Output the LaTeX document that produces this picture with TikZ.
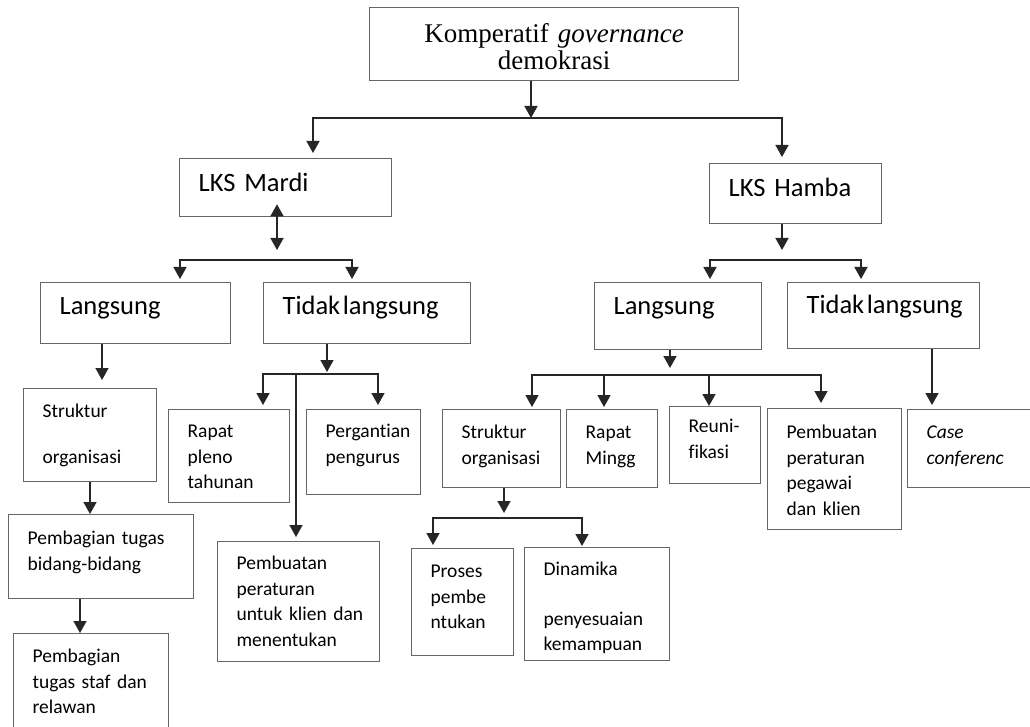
\documentclass[tikz,border=0pt]{standalone}
\usepackage{fontspec}
\setmainfont{Carlito}[Ligatures=NoCommon]
\newfontfamily\titlefont{Liberation Serif}
\usetikzlibrary{arrows.meta}

\begin{document}
\begin{tikzpicture}[
    % one unit is one pixel of the page
    x=1pt, y=-1pt,
    % general settings
    font=\fontsize{19.5}{25.5}\selectfont,
    % nodes (placed by their top left corner, text height = first baseline)
    base/.style={rectangle, draw=black!60, line width=1.3pt, inner xsep=19pt, inner ysep=0pt, align=left, anchor=north west},
    big/.style={base, font=\fontsize{26.5}{30}\selectfont},
    title/.style={base, align=center, font=\titlefont\fontsize{27}{27}\selectfont},
    % arrows
    line/.style={black!85, line width=1.6pt},
    arr/.style={line, -{Triangle[length=12pt,width=13pt]}},
    fork/.style={line, {Triangle[length=12pt,width=13pt]}-{Triangle[length=12pt,width=13pt]}},
  ]

  \useasboundingbox (0,0) rectangle (1030,727);

  \node (top)      [title, text width=331pt, text height=35pt, text depth=38pt] at (369,7)   {Komperatif \textit{governance}\\demokrasi};

  \node (mardi)    [big, text width=174pt, text height=33pt, text depth=25pt]   at (179,158) {LKS Mardi};
  \node (hamba)    [big, text width=134pt, text height=33pt, text depth=27pt]   at (709,163) {LKS Hamba};

  \node (lang1)    [big, text width=152pt, text height=32pt, text depth=29pt]   at (40,282)  {Langsung};
  \node (tidak1)   [big, text width=169pt, text height=32pt, text depth=29pt]   at (263,282) {\mbox{Tidak\hspace{2.5pt}langsung}};
  \node (lang2)    [big, text width=129pt, text height=32pt, text depth=35pt]   at (594,282) {Langsung};
  \node (tidak2)   [big, text width=154pt, text height=31pt, text depth=35pt]   at (787,282) {\mbox{Tidak\hspace{2.5pt}langsung}};

  % left branch, Langsung
  \node (struk1)   [base, text width=95pt, text height=29pt, text depth=64pt]   at (23,388)  {Struktur\\[20pt]organisasi};
  \node (bagi1)    [base, text width=147pt, text height=30pt, text depth=54pt]  at (8,514)   {Pembagian tugas\\bidang-bidang};
  \node (bagi2)    [base, text width=117pt, text height=29pt, text depth=69pt]  at (13,633)  {Pembagian\\\mbox{tugas staf dan}\\relawan};

  % left branch, Tidak langsung
  \node (rapat1)   [base, text width=83pt, text height=28pt, text depth=65pt]   at (168,409) {Rapat\\pleno\\tahunan};
  \node (ganti)    [base, text width=76pt, text height=28pt, text depth=57pt]   at (306,409) {Pergantian\\pengurus};
  \node (buat1)    [base, text width=124pt, text height=28pt, text depth=92pt]  at (217,541) {Pembuatan\\peraturan\\\mbox{untuk klien dan}\\menentukan};

  % right branch, Langsung
  \node (struk2)   [base, text width=80pt, text height=29pt, text depth=49pt]   at (442,409) {Struktur\\organisasi};
  \node (rapat2)   [base, text width=53pt, text height=29pt, text depth=49pt]   at (566,409) {Rapat\\Mingg};
  \node (reuni)    [base, text width=53pt, text height=26pt, text depth=51pt]   at (669,406) {Reuni-\\fikasi};
  \node (buat2)    [base, text width=96pt, text height=30pt, text depth=91pt]   at (767,408) {Pembuatan\\peraturan\\pegawai\\dan klien};
  \node (proses)   [base, text width=64pt, text height=29pt, text depth=78pt]   at (411,548) {Proses\\pembe\\ntukan};
  \node (dinamika) [base, text width=107pt, text height=28pt, text depth=85pt]  at (524,547) {Dinamika\\[24pt]penyesuaian\\kemampuan};

  % right branch, Tidak langsung
  \node (case)     [base, text width=95pt, text height=29pt, text depth=49pt]   at (907,409) {\textit{Case}\\\textit{conferenc}};

  % top split
  \coordinate (topfork) at (531,118);
  \draw[arr] (top.south -| topfork) -- (topfork);
  \draw[fork, shorten <=5pt, shorten >=6pt] (313,0 |- mardi.north) |- (topfork) -| (782,0 |- hamba.north);

  % LKS Mardi
  \coordinate (mardifork) at (277,260);
  \draw[fork, shorten <=-13pt, shorten >=10pt] (mardi.south -| mardifork) -- (mardifork);
  \draw[fork, shorten <=3pt, shorten >=3pt] (180,0 |- lang1.north) |- (mardifork) -| (352,0 |- tidak1.north);

  \draw[arr, shorten >=8pt] (lang1.south -| 102,0) -- (102,0 |- struk1.north);
  \draw[arr] (struk1.south -| 90,0) -- (90,0 |- bagi1.north);
  \draw[arr] (bagi1.south -| 80,0) -- (80,0 |- bagi2.north);

  \coordinate (tidak1fork) at (327,374);
  \draw[arr, shorten >=2pt] (tidak1.south -| tidak1fork) -- (tidak1fork);
  \draw[fork, shorten <=4pt, shorten >=4pt] (263,0 |- rapat1.north) |- (tidak1fork) -| (378,0 |- ganti.north);
  \draw[arr, shorten >=4pt] (296,0 |- tidak1fork) -- (296,0 |- buat1.north);

  % LKS Hamba
  \coordinate (hambafork) at (782,260);
  \draw[arr, shorten >=10pt] (hamba.south -| hambafork) -- (hambafork);
  \draw[fork, shorten <=3pt, shorten >=3pt] (710,0 |- lang2.north) |- (hambafork) -| (861,0 |- tidak2.north);

  \coordinate (lang2fork) at (670,375);
  \draw[arr, shorten >=7pt] (lang2.south -| lang2fork) -- (lang2fork);
  \draw[fork, shorten <=2pt, shorten >=5pt] (532,0 |- struk2.north) |- (lang2fork) -| (821,0 |- buat2.north);
  \draw[arr, shorten >=2pt] (604,0 |- lang2fork) -- (604,0 |- rapat2.north);
  \draw[arr] (709,0 |- lang2fork) -- (709,0 |- reuni.north);

  \coordinate (struk2fork) at (504,518);
  \draw[arr, shorten >=5pt] (struk2.south -| struk2fork) -- (struk2fork);
  \draw[fork, shorten <=3pt, shorten >=1pt] (433,0 |- proses.north) |- (struk2fork) -| (582,0 |- dinamika.north);

  \draw[arr, shorten >=4pt] (tidak2.south -| 932,0) -- (932,0 |- case.north);

\end{tikzpicture}
\end{document}
